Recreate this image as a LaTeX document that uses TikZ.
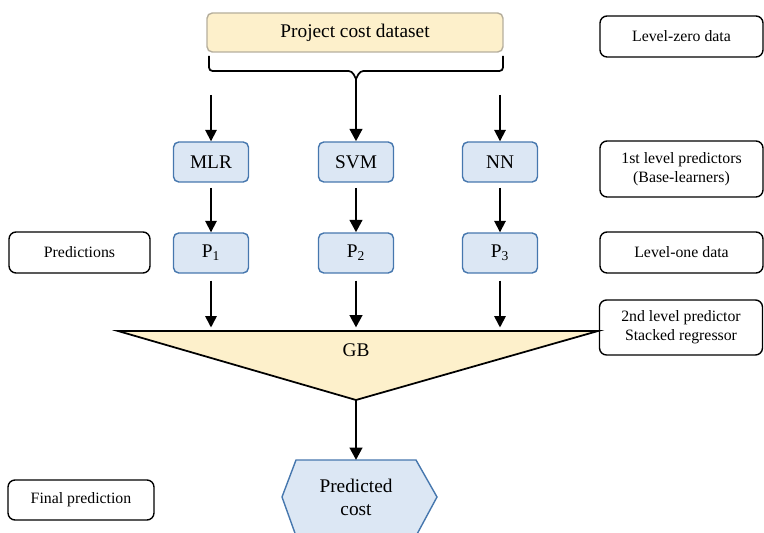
\documentclass[tikz,border=0pt]{standalone}
\usepackage{fontspec}
\setmainfont{Liberation Serif}
\usetikzlibrary{arrows.meta}

\definecolor{datafill}{HTML}{FDF0CB}
\definecolor{dataline}{HTML}{B5AE9C}
\definecolor{learnfill}{HTML}{DCE7F4}
\definecolor{learnline}{HTML}{4677AE}

\tikzset{
    learner/.style={draw=learnline, fill=learnfill, rounded corners=3pt, line width=0.8pt,
        minimum width=1.5cm, minimum height=0.8cm, font=\fontsize{11}{13}\selectfont},
    tag/.style={draw, rounded corners=4pt, line width=0.8pt, align=center,
        minimum height=0.82cm, font=\fontsize{9}{11}\selectfont},
    arr/.style={-{Triangle[length=6.5pt,width=6.5pt]}, line width=1pt},
    thickarr/.style={-{Triangle[length=7pt,width=7pt]}, line width=1.6pt}
}

\begin{document}
\begin{tikzpicture}[x=0.02cm, y=-0.02cm]

    \useasboundingbox (0, 0) rectangle (764, 533);
    \clip (0, 0) rectangle (764, 533);

    % dataset and bracket
    \node[draw=dataline, fill=datafill, rounded corners=3pt, line width=0.8pt,
        minimum width=5.92cm, minimum height=0.78cm, font=\fontsize{11}{13}\selectfont]
        (data) at (355, 32.5) {Project cost dataset};

    \coordinate (tip) at (356, 79);
    \draw[line width=1pt, rounded corners=2pt]
        (209, 56) -- (209, 71) -- (352, 71) -- (tip);
    \draw[line width=1pt, rounded corners=2pt]
        (503, 56) -- (503, 71) -- (360, 71) -- (tip);

    % base learners
    \node[learner] (mlr) at (211, 162) {MLR};
    \node[learner] (svm) at (356, 162) {SVM};
    \node[learner] (nn) at (500, 162) {NN};

    \coordinate (inl) at (211, 95);
    \coordinate (inr) at (500, 95);

    \draw[arr] (inl) -- (mlr.north);
    \draw[thickarr] (tip) -- (svm.north);
    \draw[arr] (inr) -- (nn.north);

    % level-one data
    \node[learner] (p1) at (211, 253) {P\textsubscript{1}};
    \node[learner] (p2) at (356, 253) {P\textsubscript{2}};
    \node[learner] (p3) at (500, 253) {P\textsubscript{3}};

    \draw[arr, shorten <=3pt] (mlr) -- (p1);
    \draw[thickarr, shorten <=3pt] (svm) -- (p2);
    \draw[arr, shorten <=3pt] (nn) -- (p3);

    % stacked regressor
    \coordinate (gbl) at (118, 331);
    \coordinate (gbr) at (598, 331);
    \coordinate (gbtip) at (356, 400);
    \draw[fill=datafill, line width=1pt] (gbl) -- (gbr) -- (gbtip) -- cycle;
    \node[font=\fontsize{11}{13}\selectfont] (gb) at (356, 350) {GB};

    \draw[arr, shorten <=4pt, shorten >=2pt] (p1) -- (p1 |- gbl);
    \draw[thickarr, shorten <=4pt, shorten >=2pt] (p2) -- (p2 |- gbl);
    \draw[arr, shorten <=4pt, shorten >=2pt] (p3) -- (p3 |- gbl);

    % final output
    \draw[draw=learnline, fill=learnfill, line width=0.8pt]
        (296, 460) -- (416, 460) -- (437, 497) -- (416, 536) -- (296, 536) -- (282, 497) -- cycle;
    \node[align=center, font=\fontsize{11}{13}\selectfont] (cost) at (356, 497) {Predicted\\cost};
    \coordinate (costtop) at (356, 460);

    \draw[thickarr] (gbtip) -- (costtop);

    % side labels
    \node[tag, minimum width=3.26cm] (zero) at (681.5, 36.5) {Level-zero data};
    \node[tag, minimum width=3.26cm, minimum height=1.12cm] (first) at (681.5, 169)
        {1st level predictors\\(Base-learners)};
    \node[tag, minimum width=3.26cm] (one) at (681.5, 252.5) {Level-one data};
    \node[tag, minimum width=3.26cm, minimum height=1.1cm] (second) at (681, 327.5)
        {2nd level predictor\\Stacked regressor};
    \node[tag, minimum width=2.82cm] (preds) at (79.5, 252.5) {Predictions};
    \node[tag, minimum width=2.92cm, minimum height=0.8cm] (final) at (81, 500) {Final prediction};

\end{tikzpicture}
\end{document}
